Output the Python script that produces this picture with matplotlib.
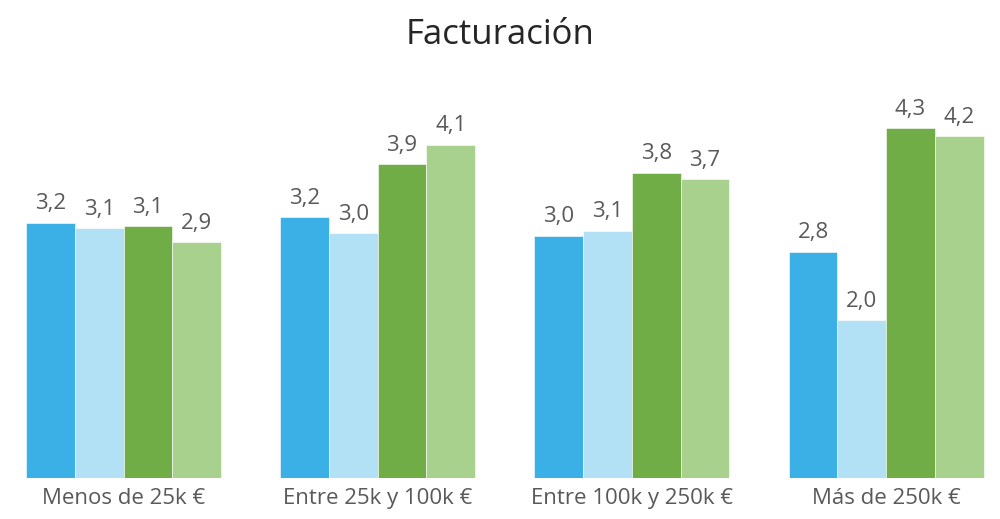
import numpy as np
import matplotlib
matplotlib.use('Agg')
from matplotlib import pyplot as plt

plt.rcParams['font.family'] = ['Open Sans', 'DejaVu Sans']

categories = ['Menos de 25k €', 'Entre 25k y 100k €', 'Entre 100k y 250k €', 'Más de 250k €']
serie_1 = [3.17, 3.24, 3.01, 2.81]
serie_2 = [3.10, 3.04, 3.07, 1.96]
serie_3 = [3.13, 3.90, 3.79, 4.34]
serie_4 = [2.93, 4.14, 3.71, 4.24]
colors = ['#3AB0E6', '#B2E0F5', '#70AD47', '#A9D18E']

fig = plt.figure(figsize=(10, 5.19), dpi=100)
ax = fig.add_axes([0, 0.079, 1, 0.821])

x = np.arange(len(categories))
w = 0.1917
series = [serie_1, serie_2, serie_3, serie_4]
for k, vals in enumerate(series):
    pos = x + (k - 1.5) * w
    bars = ax.bar(pos, vals, width=w, color=colors[k], edgecolor='white', linewidth=0.4)
    for b, v in zip(bars, vals):
        ax.annotate(f'{v:.1f}'.replace('.', ','), (b.get_x() + b.get_width() / 2, v),
                    xytext=(0, 6), textcoords='offset points', ha='center', va='bottom',
                    fontsize=16, color='#595959')

ax.set_xlim(-0.486, 3.448)
ax.set_ylim(0, 5.29)
ax.set_xticks(x)
ax.set_xticklabels(categories, fontsize=16, color='#595959')
ax.tick_params(axis='x', length=0, pad=7)
ax.set_yticks([])
for s in ax.spines.values():
    s.set_visible(False)

fig.suptitle('Facturación', fontsize=25, color='#262626', y=0.965)
fig.savefig('out.png', dpi=100, facecolor='white')
